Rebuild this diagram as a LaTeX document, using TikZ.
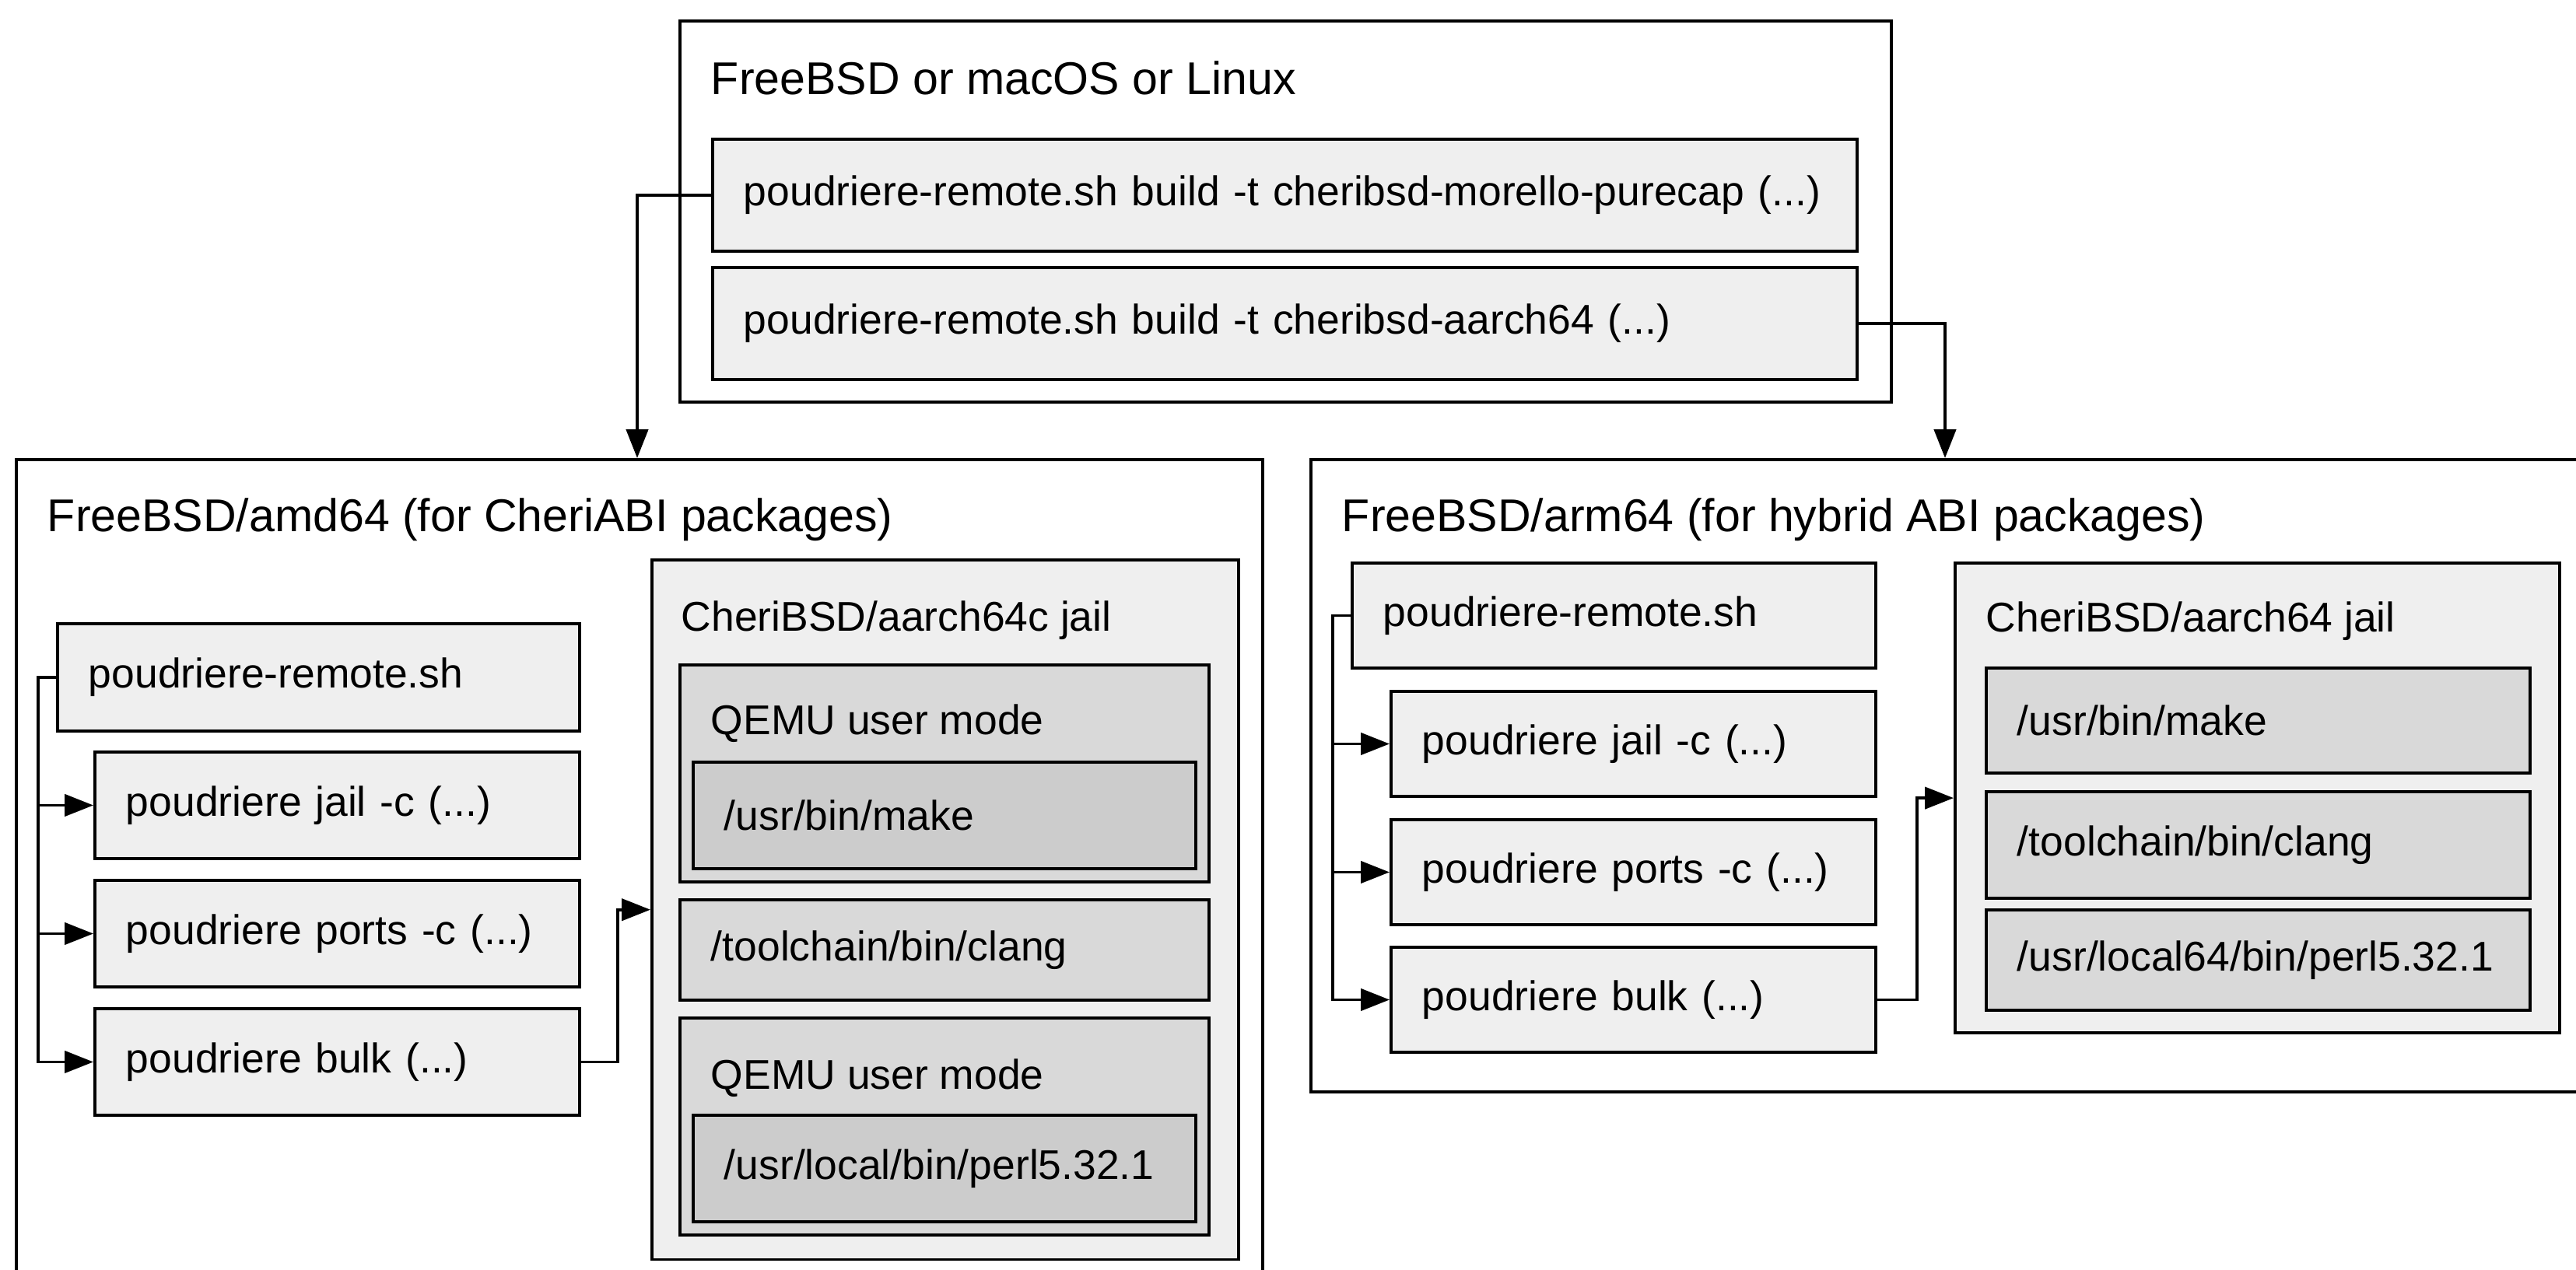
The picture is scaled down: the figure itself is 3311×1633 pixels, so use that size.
\documentclass[tikz,border=0pt]{standalone}
\usepackage{fontspec}
\setmainfont{Liberation Sans}
\usepackage{xcolor}
\usepackage{tikz}
\usetikzlibrary{arrows.meta,positioning}
\definecolor{boxlight}{HTML}{EFEFEF}
\definecolor{boxmid}{HTML}{D9D9D9}
\definecolor{boxdark}{HTML}{CCCCCC}

\begin{document}
\begin{tikzpicture}[x=0.01cm, y=-0.01cm, line width=1.1pt,
  font=\fontsize{15.2}{18}\selectfont,
  frame/.style={draw, anchor=north west, inner sep=0pt},
  title/.style={anchor=west, inner sep=0pt},
  hosttitle/.style={title, font=\fontsize{16.8}{20}\selectfont},
  cmd/.style={draw, anchor=north west, inner xsep=0.4cm, inner ysep=0pt, align=left},
  link/.style={-{Triangle[length=10.5pt,width=8pt]}}]
\useasboundingbox (0,0) rectangle (3311,1633);
\clip (0,0) rectangle (3311,1633);
\node[frame, fill=white, minimum width=15.56cm, minimum height=4.90cm] (host) at (872,25) {};
\node[hosttitle] (hostlabel) at (912,100) {FreeBSD or macOS or Linux};
\node[cmd, fill=boxlight, text width=13.9cm, minimum height=1.44cm] (cmdpure) at (914,177) {poudriere-remote.sh build -t cheribsd-morello-purecap (...)};
\node[cmd, fill=boxlight, text width=13.9cm, minimum height=1.44cm] (cmdhyb) at (914,342) {poudriere-remote.sh build -t cheribsd-aarch64 (...)};

\node[frame, fill=white, minimum width=16.01cm, minimum height=11.2cm] (amd) at (19,589) {};
\node[hosttitle] (amdlabel) at (59,668) {FreeBSD/amd64 (for CheriABI packages)};
\node[cmd, fill=boxlight, text width=5.91cm, minimum height=1.38cm] (remote) at (72,800) {poudriere-remote.sh};
\node[cmd, fill=boxlight, text width=5.43cm, minimum height=1.37cm] (jailc) at (120,965) {poudriere jail -c (...)};
\node[cmd, fill=boxlight, text width=5.43cm, minimum height=1.37cm] (portsc) at (120,1130) {poudriere ports -c (...)};
\node[cmd, fill=boxlight, text width=5.43cm, minimum height=1.37cm] (bulk) at (120,1295) {poudriere bulk (...)};
\node[frame, fill=boxlight, minimum width=7.54cm, minimum height=8.99cm] (cheric) at (836,718) {};
\node[title] (chericlabel) at (874,798) {CheriBSD/aarch64c jail};
\node[frame, fill=boxmid, minimum width=6.80cm, minimum height=2.79cm] (qemumake) at (872,853) {};
\node[title] (qemumakelabel) at (912,930) {QEMU user mode};
\node[cmd, fill=boxdark, text width=5.66cm, minimum height=1.37cm] (makec) at (889,978) {/usr/bin/make};
\node[cmd, fill=boxmid, text width=6.0cm, minimum height=1.29cm] (clangc) at (872,1155) {/toolchain/bin/clang};
\node[frame, fill=boxmid, minimum width=6.80cm, minimum height=2.79cm] (qemuperl) at (872,1307) {};
\node[title] (qemuperllabel) at (912,1386) {QEMU user mode};
\node[cmd, fill=boxdark, text width=5.66cm, minimum height=1.37cm] (perlc) at (889,1432) {/usr/local/bin/perl5.32.1};

\node[frame, fill=white, minimum width=17.5cm, minimum height=8.13cm] (arm) at (1683,589) {};
\node[hosttitle] (armlabel) at (1723,668) {FreeBSD/arm64 (for hybrid ABI packages)};
\node[cmd, fill=boxlight, text width=5.93cm, minimum height=1.35cm] (remoteb) at (1736,722) {poudriere-remote.sh};
\node[cmd, fill=boxlight, text width=5.43cm, minimum height=1.35cm] (jailb) at (1786,887) {poudriere jail -c (...)};
\node[cmd, fill=boxlight, text width=5.43cm, minimum height=1.35cm] (portsb) at (1786,1052) {poudriere ports -c (...)};
\node[cmd, fill=boxlight, text width=5.43cm, minimum height=1.35cm] (bulkb) at (1786,1216) {poudriere bulk (...)};
\node[frame, fill=boxlight, minimum width=7.77cm, minimum height=6.04cm] (cheri) at (2511,722) {};
\node[title] (cherilabel) at (2551,799) {CheriBSD/aarch64 jail};
\node[cmd, fill=boxmid, text width=6.19cm, minimum height=1.35cm] (makeb) at (2551,857) {/usr/bin/make};
\node[cmd, fill=boxmid, text width=6.19cm, minimum height=1.37cm] (clangb) at (2551,1016) {/toolchain/bin/clang};
\node[cmd, fill=boxmid, text width=6.19cm, minimum height=1.29cm] (perlb) at (2551,1168) {/usr/local64/bin/perl5.32.1};

\coordinate (amdin) at (819,589);
\coordinate (armin) at (2500,589);
\draw[link] (cmdpure.west) -| (amdin);
\draw[link] (cmdhyb.east) -| (armin);
\draw[link] (remote.west) -- ++(-23,0) |- (jailc.west);
\draw[link] (remote.west) -- ++(-23,0) |- (portsc.west);
\draw[link] (remote.west) -- ++(-23,0) |- (bulk.west);
\draw[link] (bulk.east) -- ++(47,0) |- (cheric.west);
\draw[link] (remoteb.west) -- ++(-23,0) |- (jailb.west);
\draw[link] (remoteb.west) -- ++(-23,0) |- (portsb.west);
\draw[link] (remoteb.west) -- ++(-23,0) |- (bulkb.west);
\draw[link] (bulkb.east) -- ++(51,0) |- (cheri.west);
\end{tikzpicture}
\end{document}
